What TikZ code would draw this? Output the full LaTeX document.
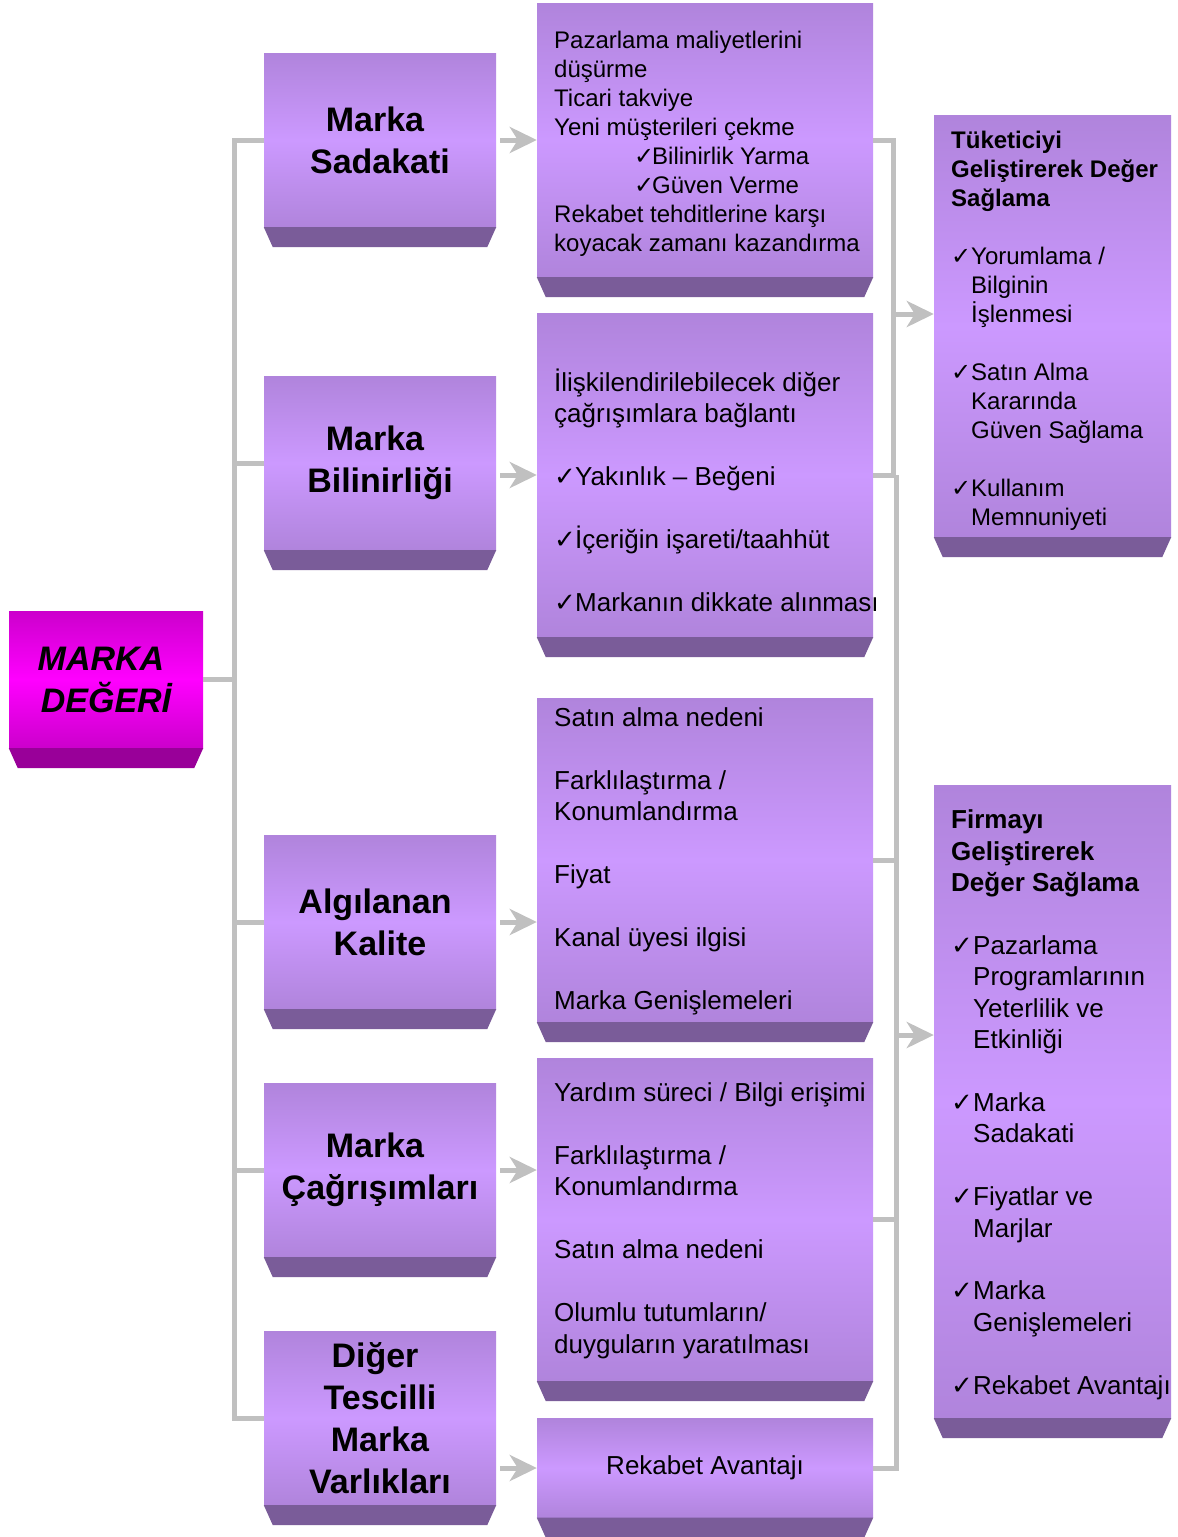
\documentclass[tikz,border=0pt]{standalone}
\usepackage{graphicx}
\usepackage{fontspec}
\setmainfont{Liberation Sans}
\newfontfamily\symf{DejaVu Sans}
\usetikzlibrary{arrows.meta}

\definecolor{pdark}{HTML}{B084DC}
\definecolor{plight}{HTML}{CC99FF}
\definecolor{pbev}{HTML}{7A5C99}
\definecolor{mdark}{HTML}{CC00CC}
\definecolor{mlight}{HTML}{FF00FF}
\definecolor{mbev}{HTML}{990099}
\definecolor{link}{HTML}{C0C0C0}

% check mark and a check mark in a box of fixed width
\newcommand\ck{{\symf ✓}}
\newcommand\chk[1]{\makebox[#1][l]{\ck}}
% trailing blank that nudges a centred title line to the left
\newcommand\tr{\hspace*{10pt}}
% slanted bottom face under a panel
\newcommand\bevel[2]{\fill[#2] (#1.south west) -- (#1.south east)
  -- ([xshift=-9pt,yshift=-20pt]#1.south east)
  -- ([xshift=9pt,yshift=-20pt]#1.south west) -- cycle;}

\tikzset{
  panel/.style args={#1 by #2}{shape=rectangle, inner sep=0pt,
    top color=pdark, bottom color=pdark, middle color=plight,
    minimum width=#1, minimum height=#2},
  hotpanel/.style args={#1 by #2}{shape=rectangle, inner sep=0pt,
    top color=mdark, bottom color=mdark, middle color=mlight,
    minimum width=#1, minimum height=#2},
  title/.style={font=\fontsize{34pt}{42pt}\selectfont\bfseries, align=center},
  conn/.style={draw=link, line width=5pt},
  arr/.style={draw=link, line width=5pt,
    -{Stealth[length=27pt,width=26pt,inset=8pt]}},
  % text blocks are placed by the baseline of their last line
  body/.style={anchor=base west, inner sep=0pt, align=left},
  small/.style={font=\fontsize{24pt}{29pt}\selectfont},
  large/.style={font=\fontsize{26pt}{31.5pt}\selectfont},
}

\begin{document}
\begin{tikzpicture}[x=1pt,y=-1pt]
\fill[white] (0,0) rectangle (1178,1537);
\useasboundingbox (0,0) rectangle (1178,1537);

% junction points of the connector frames
\coordinate (lt) at (234,140);
\coordinate (lb) at (234,1418);
\coordinate (ra) at (893,140);
\coordinate (rb) at (893,475);
\coordinate (rc) at (896,475);
\coordinate (rd) at (896,1468);
\coordinate (j1) at (893,314);
\coordinate (j2) at (896,1035);

% panels
\node[hotpanel=194pt by 137pt, font=\fontsize{34pt}{42pt}\selectfont\bfseries\itshape, align=center]
  (md) at (106,679.5) {MARKA\tr\\DEĞERİ};

\node[panel=232pt by 174pt, title] (l1) at (380,140) {Marka\tr\\Sadakati};
\node[panel=232pt by 174pt, title] (l2) at (380,463) {Marka\tr\\Bilinirliği};
\node[panel=232pt by 174pt, title] (l3) at (380,922) {Algılanan\tr\\Kalite};
\node[panel=232pt by 174pt, title] (l4) at (380,1170) {Marka\tr\\Çağrışımları};
\node[panel=232pt by 174pt, title] (l5) at (380,1418) {Diğer\tr\\Tescilli\tr\\Marka\tr\\Varlıkları};

\node[panel=336pt by 274pt] (m1) at (705,140) {};
\node[panel=336pt by 324pt] (m2) at (705,475) {};
\node[panel=336pt by 324pt] (m3) at (705,860) {};
\node[panel=336pt by 323pt] (m4) at (705,1219.5) {};
\node[panel=336pt by 99pt, large] (m5) at (705,1468) {Rekabet Avantajı};

\node[panel=237pt by 422pt] (r1) at (1052.5,326) {};
\node[panel=237pt by 633pt] (r2) at (1052.5,1101.5) {};

\foreach \n in {l1,l2,l3,l4,l5,m1,m2,m3,m4,m5,r1,r2} {\bevel{\n}{pbev}}
\bevel{md}{mbev}

% connectors on the left
\draw[conn] (l1.west) -- (lt) -- (lb) -- (l5.west);
\draw[conn] (md.east) -- (md.east -| lt);
\draw[conn] (l2.west) -- (l2.west -| lt);
\draw[conn] (l3.west) -- (l3.west -| lt);
\draw[conn] (l4.west) -- (l4.west -| lt);

% arrows into the middle column
\draw[arr, shorten <=4pt] (l1.east) -- (m1.west);
\draw[arr, shorten <=4pt] (l2.east |- m2.west) -- (m2.west);
\draw[arr, shorten <=4pt] (l3.east) -- (m3.west |- l3.east);
\draw[arr, shorten <=4pt] (l4.east) -- (m4.west |- l4.east);
\draw[arr, shorten <=4pt] (l5.east |- m5.west) -- (m5.west);

% connectors on the right
\draw[conn] (m1.east) -- (ra) -- (rb) -- (m2.east);
\draw[conn] (rc) -- (rd) -- (m5.east);
\draw[conn] (m3.east) -- (m3.east -| rc);
\draw[conn] (m4.east) -- (m4.east -| rc);
\draw[arr] (j1) -- (j1 -| r1.west);
\draw[arr] (j2) -- (j2 -| r2.west);

% texts of the middle column
\node[body, small] (t1) at (554,251) {Pazarlama maliyetlerini\\
düşürme\\
Ticari takviye\\
Yeni müşterileri çekme\\
\hspace*{80pt}\chk{18pt}Bilinirlik Yarma\\
\hspace*{80pt}\chk{18pt}Güven Verme\\
Rekabet tehditlerine karşı\\
koyacak zamanı kazandırma};

\node[body, large] (t2) at (554,611.5) {İlişkilendirilebilecek diğer\\
çağrışımlara bağlantı\\[31.5pt]
\chk{21pt}Yakınlık – Beğeni\\[31.5pt]
\chk{21pt}İçeriğin işareti/taahhüt\\[31.5pt]
\chk{21pt}Markanın dikkate alınması};

\node[body, large] (t3) at (554,1009.5) {Satın alma nedeni\\[31.5pt]
Farklılaştırma /\\
Konumlandırma\\[31.5pt]
Fiyat\\[31.5pt]
Kanal üyesi ilgisi\\[31.5pt]
Marka Genişlemeleri};

\node[body, large] (t4) at (554,1353) {Yardım süreci / Bilgi erişimi\\[31.5pt]
Farklılaştırma /\\
Konumlandırma\\[31.5pt]
Satın alma nedeni\\[31.5pt]
Olumlu tutumların/\\
duyguların yaratılması};

% texts of the right column
\node[body, small] (t6) at (951,525) {\textbf{Tüketiciyi}\\
\textbf{Geliştirerek Değer}\\
\textbf{Sağlama}\\[29pt]
\chk{20pt}Yorumlama /\\
\hspace*{20pt}Bilginin\\
\hspace*{20pt}İşlenmesi\\[29pt]
\chk{20pt}Satın Alma\\
\hspace*{20pt}Kararında\\
\hspace*{20pt}Güven Sağlama\\[29pt]
\chk{20pt}Kullanım\\
\hspace*{20pt}Memnuniyeti};

\node[body, font=\fontsize{26pt}{31.4pt}\selectfont] (t7) at (951,1394) {\textbf{Firmayı}\\
\textbf{Geliştirerek}\\
\textbf{Değer Sağlama}\\[31.4pt]
\chk{22pt}Pazarlama\\
\hspace*{22pt}Programlarının\\
\hspace*{22pt}Yeterlilik ve\\
\hspace*{22pt}Etkinliği\\[31.4pt]
\chk{22pt}Marka\\
\hspace*{22pt}Sadakati\\[31.4pt]
\chk{22pt}Fiyatlar ve\\
\hspace*{22pt}Marjlar\\[31.4pt]
\chk{22pt}Marka\\
\hspace*{22pt}Genişlemeleri\\[31.4pt]
\chk{22pt}Rekabet Avantajı};
\end{tikzpicture}
\end{document}
